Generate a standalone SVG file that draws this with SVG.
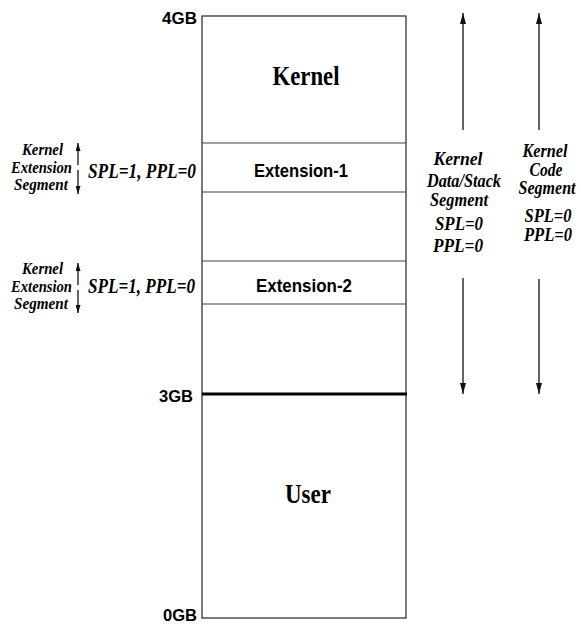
<svg xmlns="http://www.w3.org/2000/svg" width="581" height="624" viewBox="0 0 581 624">
  <style>
    .box { fill: #fff; stroke: #222; stroke-width: 1.2; }
    .div { stroke: #444; stroke-width: 1.2; }
    .bound { stroke: #000; stroke-width: 3; }
    .addr { font-family: "Liberation Sans", Arial, sans-serif; font-weight: bold; font-size: 16.5px; fill: #000; }
    .ext { font-family: "Liberation Sans", Arial, sans-serif; font-weight: bold; font-size: 18px; fill: #000; text-anchor: middle; }
    .region { font-family: "Liberation Serif", "Times New Roman", serif; font-weight: bold; font-size: 27px; fill: #000; text-anchor: middle; }
    .lab { font-family: "Liberation Serif", "Times New Roman", serif; font-weight: bold; font-style: italic; fill: #000; }
    .small { font-size: 16.5px; text-anchor: end; }
    .mid { font-size: 20px; }
    .col { font-size: 19px; text-anchor: middle; }
    .arrow { stroke: #111; stroke-width: 1.3; fill: none; }
  </style>
  <defs>
    <marker id="bighead" viewBox="0 0 10 10" refX="10" refY="5" markerWidth="11" markerHeight="6" markerUnits="userSpaceOnUse" orient="auto" preserveAspectRatio="none">
      <path d="M0,0 L10,5 L0,10 z" fill="#111"/>
    </marker>
    <marker id="smallhead" viewBox="0 0 10 10" refX="10" refY="5" markerWidth="8" markerHeight="5" markerUnits="userSpaceOnUse" orient="auto" preserveAspectRatio="none">
      <path d="M0,0 L10,5 L0,10 z" fill="#111"/>
    </marker>
  </defs>

  <!-- address space column -->
  <g id="address-space">
    <rect class="box" x="202" y="16" width="204" height="602"/>
  </g>

  <g id="kernel">
    <text class="region" x="306" y="85" textLength="67" lengthAdjust="spacingAndGlyphs">Kernel</text>
  </g>

  <g id="extension-1">
    <line class="div" x1="202" y1="143" x2="406" y2="143"/>
    <line class="div" x1="202" y1="192" x2="406" y2="192"/>
    <text class="ext" x="301" y="177" textLength="94" lengthAdjust="spacingAndGlyphs">Extension-1</text>
  </g>

  <g id="extension-2">
    <line class="div" x1="202" y1="261" x2="406" y2="261"/>
    <line class="div" x1="202" y1="304" x2="406" y2="304"/>
    <text class="ext" x="304" y="292" textLength="96" lengthAdjust="spacingAndGlyphs">Extension-2</text>
  </g>

  <g id="user">
    <line class="bound" x1="202" y1="394" x2="407" y2="394"/>
    <text class="region" x="308" y="503" textLength="46" lengthAdjust="spacingAndGlyphs">User</text>
  </g>

  <!-- address marks -->
  <g id="addr-4gb"><text class="addr" x="162" y="24" textLength="35" lengthAdjust="spacingAndGlyphs">4GB</text></g>
  <g id="addr-3gb"><text class="addr" x="159" y="402" textLength="34" lengthAdjust="spacingAndGlyphs">3GB</text></g>
  <g id="addr-0gb"><text class="addr" x="163" y="621" textLength="34" lengthAdjust="spacingAndGlyphs">0GB</text></g>

  <!-- extension segment labels -->
  <g id="ext-seg-1">
    <text class="lab small" x="63" y="155" textLength="41" lengthAdjust="spacingAndGlyphs">Kernel</text>
    <text class="lab small" x="72" y="173" textLength="61" lengthAdjust="spacingAndGlyphs">Extension</text>
    <text class="lab small" x="68" y="190" textLength="54" lengthAdjust="spacingAndGlyphs">Segment</text>
    <text class="lab mid" x="88" y="178" textLength="108" lengthAdjust="spacingAndGlyphs">SPL=1, PPL=0</text>
  </g>
  <g id="ext-seg-2">
    <text class="lab small" x="63" y="274" textLength="41" lengthAdjust="spacingAndGlyphs">Kernel</text>
    <text class="lab small" x="72" y="292" textLength="61" lengthAdjust="spacingAndGlyphs">Extension</text>
    <text class="lab small" x="68" y="309" textLength="54" lengthAdjust="spacingAndGlyphs">Segment</text>
    <text class="lab mid" x="88" y="293" textLength="107" lengthAdjust="spacingAndGlyphs">SPL=1, PPL=0</text>
  </g>

  <!-- kernel segment labels -->
  <g id="data-stack-seg">
    <text class="lab col" x="458" y="165" textLength="49" lengthAdjust="spacingAndGlyphs">Kernel</text>
    <text class="lab col" x="464" y="187" textLength="74" lengthAdjust="spacingAndGlyphs">Data/Stack</text>
    <text class="lab col" x="459" y="206" textLength="58" lengthAdjust="spacingAndGlyphs">Segment</text>
    <text class="lab col" x="459" y="230" textLength="48" lengthAdjust="spacingAndGlyphs">SPL=0</text>
    <text class="lab col" x="458" y="252" textLength="50" lengthAdjust="spacingAndGlyphs">PPL=0</text>
  </g>
  <g id="code-seg">
    <text class="lab col" x="545" y="157" textLength="45" lengthAdjust="spacingAndGlyphs">Kernel</text>
    <text class="lab col" x="546" y="176" textLength="33" lengthAdjust="spacingAndGlyphs">Code</text>
    <text class="lab col" x="547" y="194" textLength="57" lengthAdjust="spacingAndGlyphs">Segment</text>
    <text class="lab col" x="548" y="222" textLength="47" lengthAdjust="spacingAndGlyphs">SPL=0</text>
    <text class="lab col" x="548" y="241" textLength="48" lengthAdjust="spacingAndGlyphs">PPL=0</text>
  </g>

  <!-- extents -->
  <g id="connectors">
    <line class="arrow" x1="78" y1="165" x2="78" y2="143" marker-end="url(#smallhead)"/>
    <line class="arrow" x1="78" y1="170" x2="78" y2="194" marker-end="url(#smallhead)"/>
    <line class="arrow" x1="78" y1="285" x2="78" y2="263" marker-end="url(#smallhead)"/>
    <line class="arrow" x1="78" y1="290" x2="78" y2="313" marker-end="url(#smallhead)"/>

    <line class="arrow" x1="463" y1="130" x2="463" y2="13" marker-end="url(#bighead)"/>
    <line class="arrow" x1="463" y1="278" x2="463" y2="394" marker-end="url(#bighead)"/>
    <line class="arrow" x1="539" y1="130" x2="539" y2="13" marker-end="url(#bighead)"/>
    <line class="arrow" x1="539" y1="279" x2="539" y2="394" marker-end="url(#bighead)"/>
  </g>
</svg>
